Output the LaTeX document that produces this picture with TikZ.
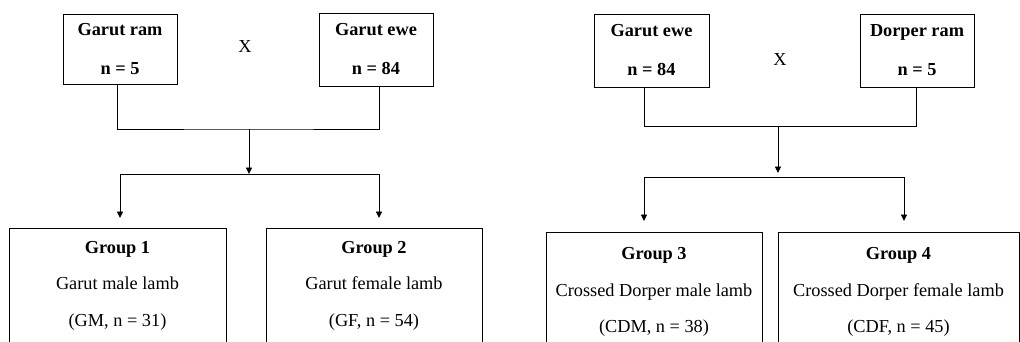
\documentclass[tikz,border=0pt]{standalone}
\usepackage{fontspec}
\setmainfont{Liberation Serif}
\usetikzlibrary{arrows.meta}
\newcommand\fsz{\fontsize{18.3}{22}\selectfont}
\begin{document}
\begin{tikzpicture}[x=1pt,y=-1pt,
  parent/.style={draw,line width=0.9pt,minimum width=114pt,minimum height=72pt,align=center,font=\fsz\bfseries,inner sep=0pt},
  groupbox/.style={draw,line width=0.9pt,minimum height=160pt,anchor=north,inner sep=0pt},
  txt/.style={anchor=base,inner sep=0pt,font=\fsz},
  btxt/.style={anchor=base,inner sep=0pt,font=\fsz\bfseries},
  cross/.style={inner sep=0pt,font=\fsz},
  link/.style={line width=0.9pt},
  arr/.style={line width=0.9pt,-{Triangle[length=6.5pt,width=6pt]}}]
\useasboundingbox (0,0) rectangle (1020,342);
\clip (0,0) rectangle (1020,342);
% ---------- left cross ----------
\node[parent,minimum height=70pt] (ram) at (120,49) {Garut ram\\[17pt]n = 5};
\node[parent,minimum height=73pt] (ewe) at (376,49.5) {Garut ewe\\[17pt]n = 84};
\node[cross] (x1) at (245,47) {X};
\node[groupbox,minimum width=217pt] (g1) at (117.5,228) {};
\node[groupbox,minimum width=216pt] (g2) at (374,228) {};
\node[btxt] (g1a) at (117.5,253) {Group 1};
\node[txt] (g1b) at (117.5,289.3) {Garut male lamb};
\node[txt] (g1c) at (117.5,326.7) {(GM, n = 31)};
\node[btxt] (g2a) at (374,253) {Group 2};
\node[txt] (g2b) at (374,289.3) {Garut female lamb};
\node[txt] (g2c) at (374,326.7) {(GF, n = 54)};
\coordinate (ra) at ([xshift=-3pt]ram.south);
\coordinate (ea) at ([xshift=3pt]ewe.south);
\coordinate (j1) at (249,129);
\coordinate (d1) at (249,174);
\coordinate (s1) at (120,174);
\coordinate (s2) at (379,174);
\draw[link] (ra) |- (j1) -| (ea);
\draw[arr] (j1) -- (d1);
\draw[link] (s1) -- (s2);
\draw[arr,shorten >=10pt] (s1) -- (s1 |- g1.north);
\draw[arr,shorten >=10pt] (s2) -- (s2 |- g2.north);
% ---------- right cross ----------
\node[parent,minimum width=115pt,minimum height=73pt] (ewe2) at (651.5,50.5) {Garut ewe\\[17pt]n = 84};
\node[parent,minimum height=73pt] (dor) at (917,50.5) {Dorper ram\\[17pt]n = 5};
\node[cross] (x2) at (780,60) {X};
\node[groupbox,minimum width=216pt] (g3) at (654,232) {};
\node[groupbox,minimum width=241pt] (g4) at (898.5,232) {};
\node[btxt] (g3a) at (654,259.5) {Group 3};
\node[txt] (g3b) at (654,296) {Crossed Dorper male lamb};
\node[txt] (g3c) at (654,332.7) {(CDM, n = 38)};
\node[btxt] (g4a) at (898.5,259.5) {Group 4};
\node[txt] (g4b) at (898.5,296) {Crossed Dorper female lamb};
\node[txt] (g4c) at (898.5,332.7) {(CDF, n = 45)};
\coordinate (rb) at ([xshift=-7.5pt]ewe2.south);
\coordinate (eb) at ([xshift=-1pt]dor.south);
\coordinate (j2) at (778,126.5);
\coordinate (d2) at (778,173);
\coordinate (s3) at (644,177);
\coordinate (s4) at (904,177);
\draw[link] (rb) |- (j2) -| (eb);
\draw[arr] (j2) -- (d2);
\draw[link] (s3) -- (s4);
\draw[arr,shorten >=11pt] (s3) -- (s3 |- g3.north);
\draw[arr,shorten >=11pt] (s4) -- (s4 |- g4.north);
\end{tikzpicture}
\end{document}
